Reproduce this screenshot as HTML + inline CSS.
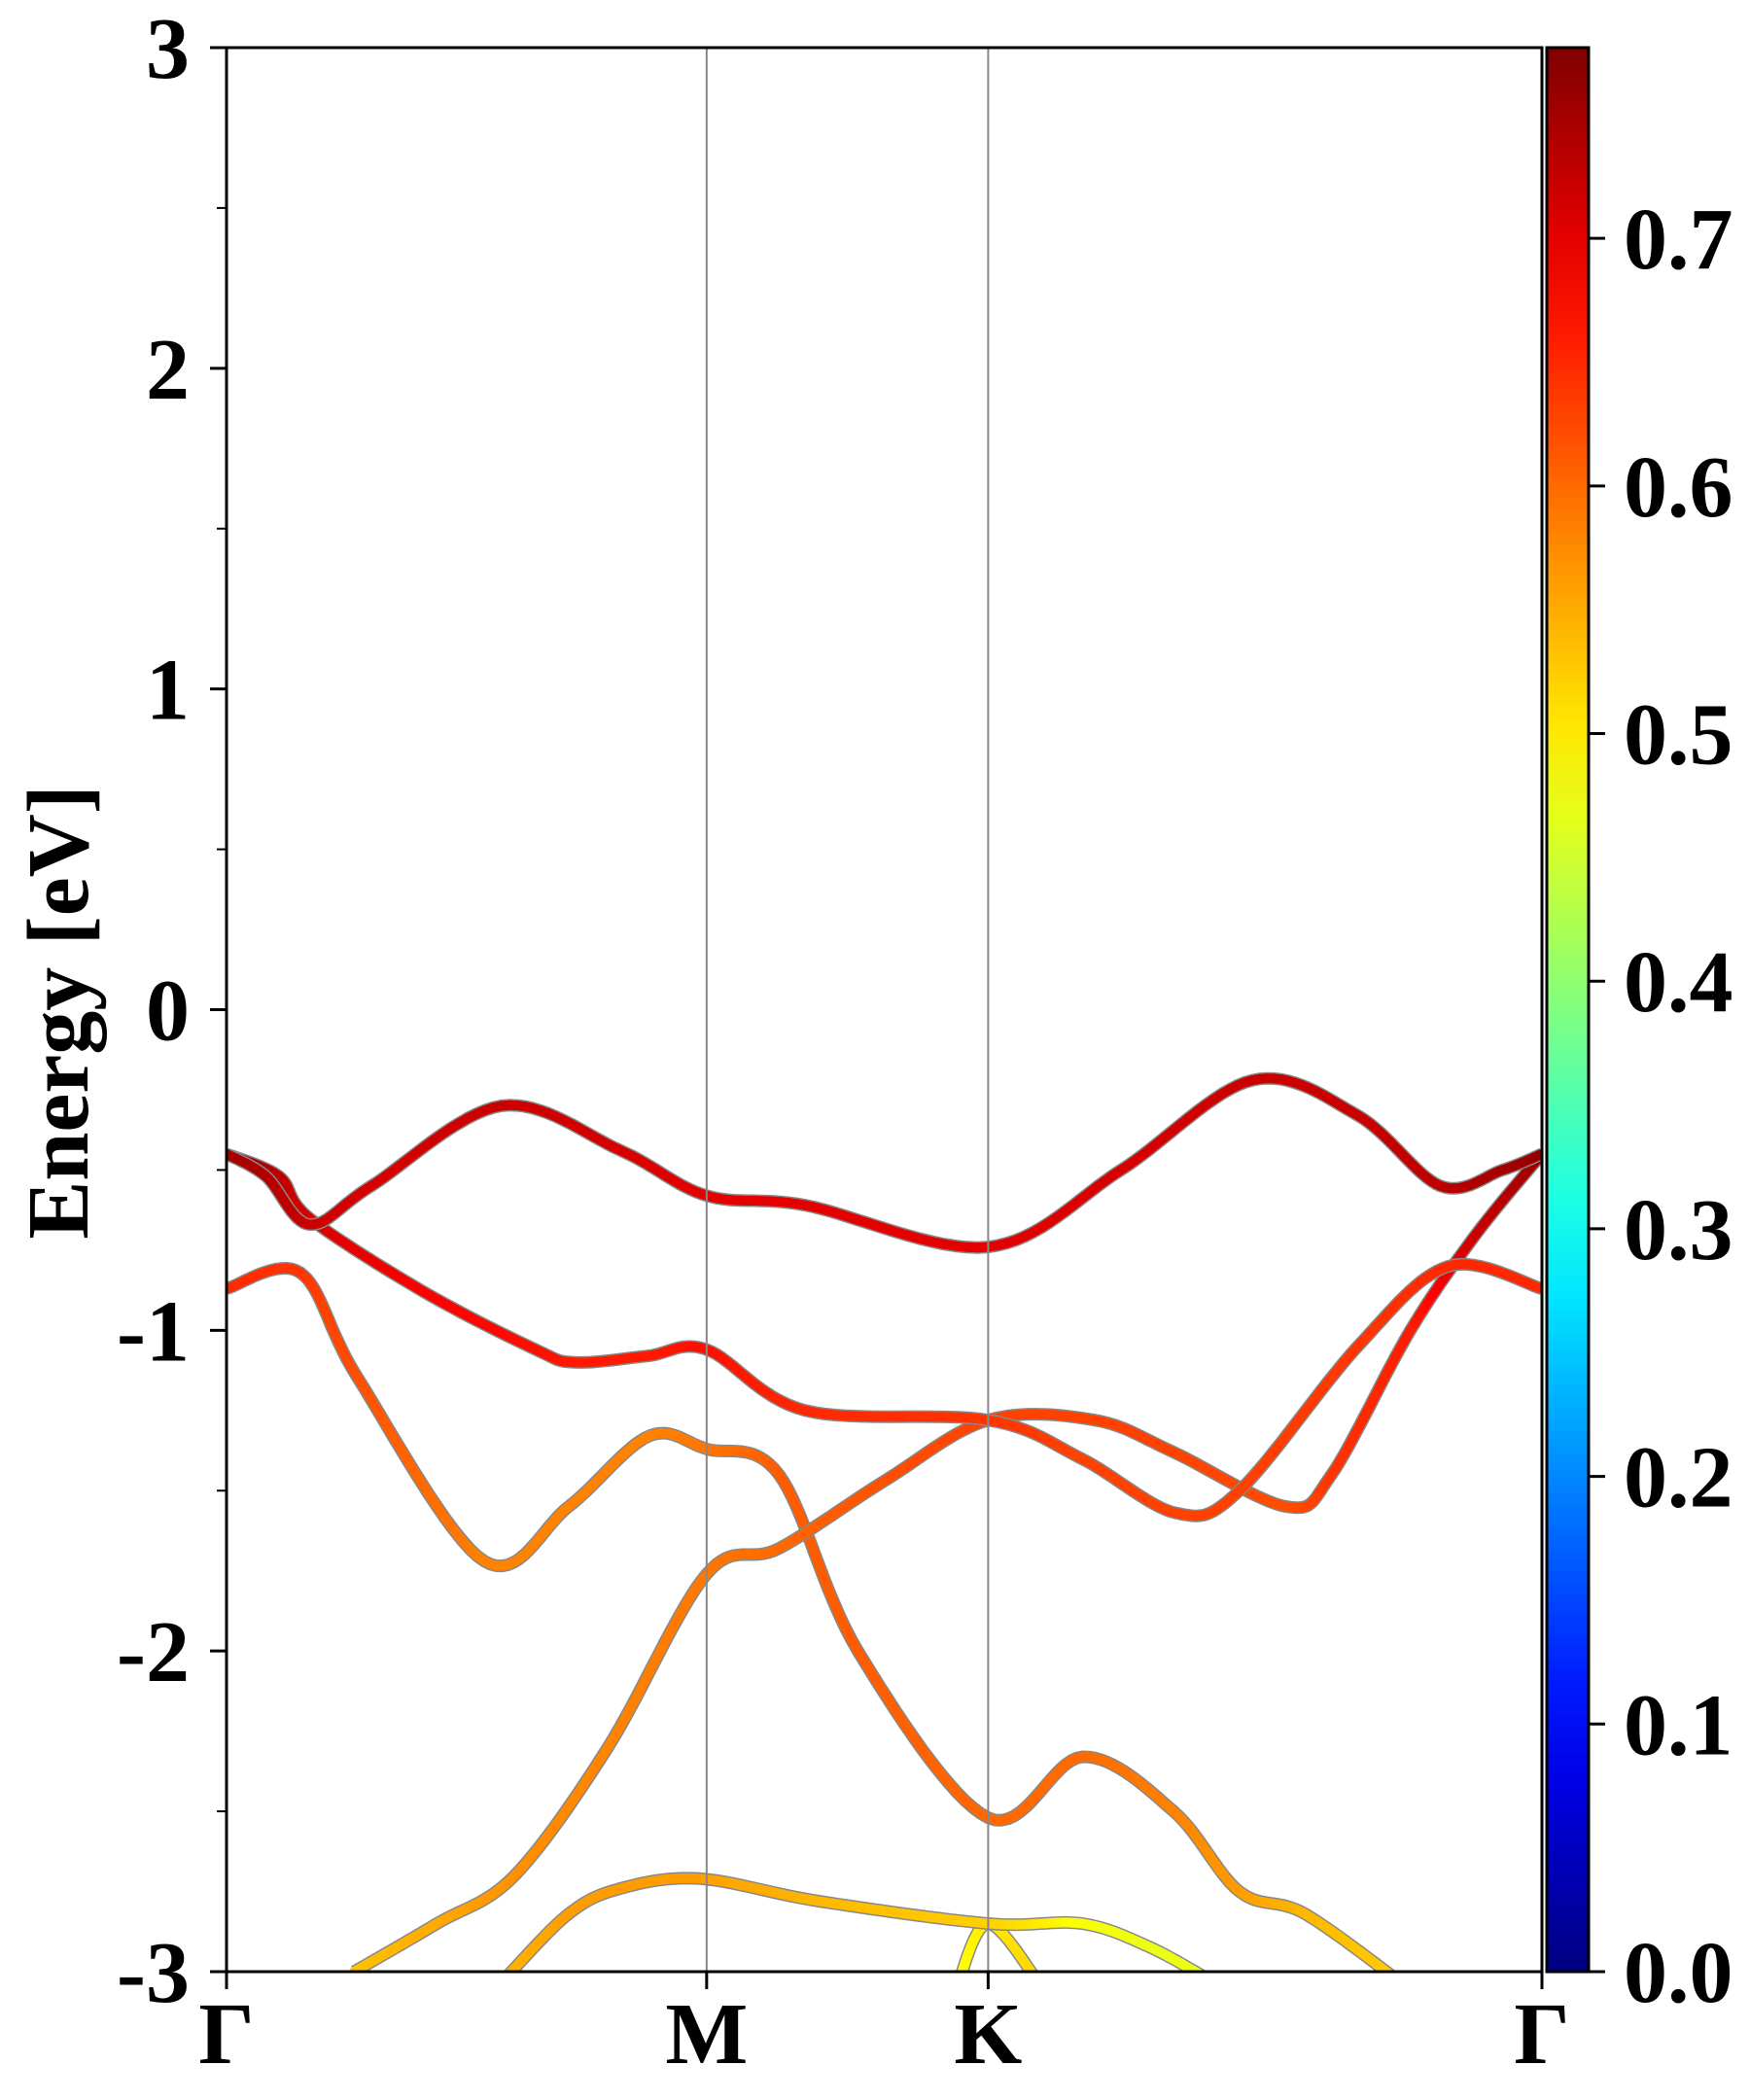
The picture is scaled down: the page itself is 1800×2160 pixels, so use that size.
<!DOCTYPE html>
<html><head><meta charset="utf-8">
<style>
html,body{margin:0;padding:0;background:#fff;}
svg{display:block;}
text{font-family:"Liberation Serif","Times New Roman",Times,serif;font-weight:bold;fill:#000;}
</style></head>
<body>
<svg id="chart" width="1800" height="2160" viewBox="0 0 1800 2160">
<defs>
<clipPath id="plotclip"><rect x="233" y="49" width="1353" height="1979"/></clipPath>
<linearGradient id="jetgrad" x1="0" y1="1" x2="0" y2="0"></linearGradient>
</defs>
<g id="bands" clip-path="url(#plotclip)"></g>
<g id="axes"></g>
</svg>
<script>
// ---- data ----
const kLabels = ["Γ","M","K","Γ"];
const kLabelPos = [0, 0.365, 0.579, 1];
const yTicks = [-3,-2,-1,0,1,2,3];
const yMinorTicks = [-2.5,-1.5,-0.5,0.5,1.5,2.5];
const cbTicks = [0.0,0.1,0.2,0.3,0.4,0.5,0.6,0.7];
const cbMax = 0.777;

const band1K = [0,0.03,0.063,0.11,0.209,0.3,0.365,0.44,0.579,0.68,0.78,0.86,0.923,0.97,1];
const band1E = [-0.45,-0.52,-0.67,-0.55,-0.30,-0.44,-0.58,-0.61,-0.74,-0.50,-0.22,-0.33,-0.55,-0.50,-0.45];
const band1W = [0.75,0.74,0.72,0.71,0.72,0.71,0.70,0.70,0.70,0.71,0.72,0.72,0.73,0.75,0.76];

const band2K = [0,0.04,0.063,0.15,0.235,0.265,0.32,0.365,0.44,0.579,0.65,0.722,0.77,0.86,0.929,1];
const band2E = [-0.45,-0.52,-0.65,-0.88,-1.06,-1.10,-1.08,-1.06,-1.25,-1.28,-1.40,-1.57,-1.50,-1.05,-0.80,-0.87];
const band2W = [0.76,0.73,0.71,0.68,0.67,0.66,0.66,0.67,0.65,0.64,0.63,0.63,0.63,0.64,0.65,0.65];

const band3K = [0,0.056,0.1,0.196,0.26,0.321,0.365,0.42,0.48,0.579,0.651,0.72,0.77,0.82,0.898];
const band3E = [-0.87,-0.82,-1.15,-1.72,-1.55,-1.33,-1.37,-1.45,-2.0,-2.52,-2.33,-2.50,-2.75,-2.82,-3.05];
const band3W = [0.65,0.64,0.62,0.58,0.58,0.58,0.59,0.61,0.61,0.60,0.60,0.58,0.56,0.54,0.52];

const band4K = [0.097,0.16,0.219,0.29,0.365,0.42,0.50,0.579,0.66,0.72,0.806,0.84,0.90,0.95,1];
const band4E = [-3.0,-2.85,-2.70,-2.30,-1.76,-1.68,-1.47,-1.28,-1.28,-1.38,-1.55,-1.45,-1.00,-0.70,-0.45];
const band4W = [0.53,0.55,0.57,0.58,0.59,0.60,0.62,0.63,0.63,0.63,0.62,0.64,0.66,0.72,0.76];

const band5K = [0.212,0.26,0.30,0.36,0.45,0.579,0.65,0.70,0.745];
const band5E = [-3.02,-2.82,-2.74,-2.71,-2.78,-2.85,-2.85,-2.92,-3.02];
const band5W = [0.54,0.56,0.56,0.56,0.54,0.52,0.48,0.47,0.47];

const band6K = [0.555,0.579,0.62];
const band6E = [-3.05,-2.85,-3.05];
const band6W = [0.48,0.50,0.52];

// ---- geometry ----
const X0=233, X1=1586, Y0=49, Y1=2028, EMIN=-3, EMAX=3;
const CBX0=1591, CBX1=1634;
function xs(k){return X0+k*(X1-X0);}
function ys(e){return Y1-(e-EMIN)/(EMAX-EMIN)*(Y1-Y0);}
function cbY(v){return Y1-v/cbMax*(Y1-Y0);}
function jet(v){
  const t=Math.max(0,Math.min(1,v/cbMax));
  const r=Math.max(0,Math.min(1,1.5-Math.abs(4*t-3)));
  const g=Math.max(0,Math.min(1,1.5-Math.abs(4*t-2)));
  const b=Math.max(0,Math.min(1,1.5-Math.abs(4*t-1)));
  return "rgb("+Math.round(r*255)+","+Math.round(g*255)+","+Math.round(b*255)+")";
}
const NS="http://www.w3.org/2000/svg";
function mk(tag,attrs,parent){const e=document.createElementNS(NS,tag);for(const a in attrs)e.setAttribute(a,attrs[a]);parent.appendChild(e);return e;}

function sample(K,E,W){
  const pts=[];
  const P=K.map((k,i)=>[xs(k),ys(E[i]),W[i]]);
  for(let i=0;i<P.length-1;i++){
    const p0=P[Math.max(0,i-1)],p1=P[i],p2=P[i+1],p3=P[Math.min(P.length-1,i+2)];
    for(let s=0;s<16;s++){
      const t=s/16,t2=t*t,t3=t2*t;
      const f=(a,b,c,d)=>0.5*((2*b)+(-a+c)*t+(2*a-5*b+4*c-d)*t2+(-a+3*b-3*c+d)*t3);
      pts.push([f(p0[0],p1[0],p2[0],p3[0]),f(p0[1],p1[1],p2[1],p3[1]),p1[2]+(p2[2]-p1[2])*t]);
    }
  }
  const L=P[P.length-1];pts.push([L[0],L[1],L[2]]);
  return pts;
}
const bandsG=document.getElementById('bands');
const bands=[[band1K,band1E,band1W],[band2K,band2E,band2W],[band3K,band3E,band3W],[band4K,band4E,band4W],[band5K,band5E,band5W],[band6K,band6E,band6W]];
const order=[5,4,2,3,1,0];
order.forEach(bi=>{
  const b=bands[bi];
  const pts=sample(b[0],b[1],b[2]);
  const g=mk('g',{},bandsG);
  
  
  const d=pts.map((p,i)=>(i?'L':'M')+p[0].toFixed(1)+' '+p[1].toFixed(1)).join(' ');
  mk('path',{d:d,fill:'none',stroke:'#888','stroke-width':13,'stroke-linejoin':'round'},g);
  for(let i=0;i<pts.length-1;i++){
    mk('line',{x1:pts[i][0].toFixed(1),y1:pts[i][1].toFixed(1),x2:pts[i+1][0].toFixed(1),y2:pts[i+1][1].toFixed(1),stroke:jet(pts[i][2]),'stroke-width':10,'stroke-linecap':'round'},g);
  }
});

const ax=document.getElementById('axes');
const FF='"Liberation Serif","Times New Roman",Times,serif';
[1,2].forEach(i=>{
  const l=mk('line',{x1:xs(kLabelPos[i]),x2:xs(kLabelPos[i]),y1:Y0,y2:Y1,stroke:'#888','stroke-width':2},ax);
  
  
});
const fr=mk('rect',{x:X0,y:Y0,width:X1-X0,height:Y1-Y0,fill:'none',stroke:'#000','stroke-width':3},ax);


yTicks.forEach(v=>{
  mk('line',{x1:X0-17,x2:X0,y1:ys(v),y2:ys(v),stroke:'#000','stroke-width':3},ax);
  const t=mk('text',{x:195,y:ys(v)+31,'text-anchor':'end','font-size':90,'font-family':FF,'font-weight':'bold'},ax);
  t.textContent=String(v);
  
  
});
yMinorTicks.forEach(v=>{mk('line',{x1:X0-10,x2:X0,y1:ys(v),y2:ys(v),stroke:'#000','stroke-width':2},ax);});
kLabelPos.forEach((k,i)=>{
  mk('line',{x1:xs(k),x2:xs(k),y1:Y1,y2:Y1+18,stroke:'#000','stroke-width':3},ax);
  const t=mk('text',{x:xs(k),y:2122,'text-anchor':'middle','font-size':90,'font-family':FF,'font-weight':'bold'},ax);
  t.textContent=kLabels[i];
  
  
});
const yt=mk('text',{x:0,y:0,'text-anchor':'middle','font-size':90,'font-family':FF,'font-weight':'bold',transform:'translate(90,1041) rotate(-90)'},ax);
yt.textContent='Energy [eV]';


const grad=document.getElementById('jetgrad');
for(let i=0;i<=20;i++){const v=i/20*cbMax;mk('stop',{offset:(i/20),'stop-color':jet(v)},grad);}
const cb=mk('rect',{x:CBX0,y:Y0,width:CBX1-CBX0,height:Y1-Y0,fill:'url(#jetgrad)',stroke:'#000','stroke-width':3},ax);


cbTicks.forEach(v=>{
  mk('line',{x1:CBX1,x2:CBX1+17,y1:cbY(v),y2:cbY(v),stroke:'#000','stroke-width':3},ax);
  const t=mk('text',{x:1670,y:cbY(v)+31,'text-anchor':'start','font-size':90,'font-family':FF,'font-weight':'bold'},ax);
  t.textContent=v.toFixed(1);
  
  
});
</script>
</body></html>
